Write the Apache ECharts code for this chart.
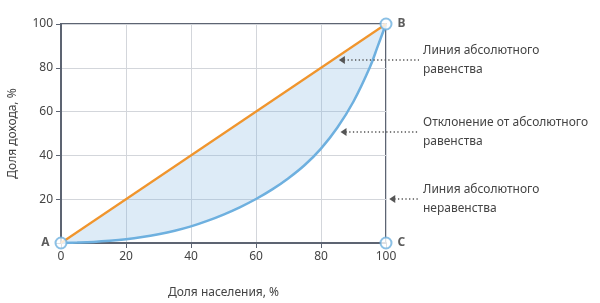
<!DOCTYPE html>
<html><head><meta charset="utf-8">
<script src="https://cdn.jsdelivr.net/npm/echarts@6/dist/echarts.min.js"></script>
<style>html,body{margin:0;padding:0;background:#fff}#c{width:600px;height:303px}</style>
</head><body><div id="c"></div>
<script>
const populationShare = [0, 5, 10, 15, 20, 25, 30, 35, 40, 45, 50, 55, 60, 65, 70, 75, 80, 85, 90, 95, 97.5, 100];
const incomeShare = [0, 0.2, 0.5, 1.0, 1.7, 2.7, 4.0, 5.6, 7.6, 10.1, 13.0, 16.3, 20.1, 24.5, 29.6, 35.6, 43.1, 52.6, 64.6, 80.1, 90, 100];
const equalityX = [0, 100];
const equalityY = [0, 100];
const axisTicks = [0, 20, 40, 60, 80, 100];
const pointNames = ['A', 'B', 'C'];
const pointX = [0, 100, 100];
const pointY = [0, 100, 0];
const annotTexts = [['Линия абсолютного', 'равенства'], ['Отклонение от абсолютного', 'равенства'], ['Линия абсолютного', 'неравенства']];
const annotX = [85.5, 86, 101];
const annotY = [83.5, 50.8, 20.2];
const xName = 'Доля населения, %';
const yName = 'Доля дохода, %';

const FONT = 'Noto Sans';
const TXT = '#444';
const AX = '#5d6472';
const BLUE = '#6eb0df';
const ORANGE = '#f0952d';

const chart = echarts.init(document.getElementById('c'), null, {renderer: 'canvas'});
const curve = populationShare.map((x, i) => [x, incomeShare[i]]);
const eqLine = equalityX.map((x, i) => [x, equalityY[i]]);
const pts = pointNames.map((n, i) => ({name: n, value: [pointX[i], pointY[i]],
  label: {position: i === 0 ? 'left' : 'right'}}));

const axisCommon = {
  type: 'value', min: axisTicks[0], max: axisTicks[axisTicks.length - 1], interval: 20,
  nameLocation: 'middle',
  nameTextStyle: {fontFamily: FONT, fontSize: 12, color: TXT},
  axisLine: {show: true, lineStyle: {color: AX, width: 2}},
  axisTick: {show: true, length: 5, lineStyle: {color: AX, width: 1}},
  axisLabel: {fontFamily: FONT, fontSize: 12, color: TXT, margin: 8},
  splitLine: {show: true, lineStyle: {color: '#d3d6db', width: 1}}
};

chart.setOption({
  animation: false,
  grid: {left: 61, right: 214, top: 24, bottom: 60, show: true, borderColor: AX, borderWidth: 2,
    backgroundColor: 'transparent', containLabel: false, outerBoundsMode: 'none'},
  xAxis: Object.assign({}, axisCommon, {name: xName, nameGap: 44}),
  yAxis: Object.assign({}, axisCommon, {name: yName, nameGap: 42,
    axisLabel: Object.assign({}, axisCommon.axisLabel, {formatter: v => v === 0 ? '' : String(v)})}),
  series: [
    {type: 'custom', data: [0], silent: true, z: 1,
     renderItem: (params, api) => {
       const top = eqLine.map(p => api.coord(p));
       const bottom = curve.slice().reverse().map(p => api.coord(p));
       return {type: 'polygon', shape: {points: top.concat(bottom)},
         style: {fill: 'rgba(120,175,225,0.25)', stroke: null}};
     }},
    {type: 'line', data: curve, smooth: 0.4, symbol: 'none',
     lineStyle: {color: BLUE, width: 2.5}, z: 5},
    {type: 'line', data: eqLine, symbol: 'none', lineStyle: {color: ORANGE, width: 2.2}, z: 6},
    {type: 'scatter', data: pts, symbol: 'circle', symbolSize: 11,
     itemStyle: {color: '#fff', borderColor: BLUE, borderWidth: 2}, z: 7,
     label: {show: true, formatter: '{b}', fontFamily: FONT, fontWeight: 'bold', fontSize: 12, color: '#333', distance: 5}}
  ]
});

const g = [];
annotTexts.forEach((lines, i) => {
  const p = chart.convertToPixel({gridIndex: 0}, [annotX[i], annotY[i]]);
  const tx = p[0], ty = Math.round(p[1]);
  const endX = 419;
  g.push({type: 'line', shape: {x1: tx + 5, y1: ty, x2: endX, y2: ty},
    style: {stroke: '#555', lineWidth: 1.3, lineDash: [1.3, 2.4]}, z: 10});
  g.push({type: 'polygon', shape: {points: [[tx, ty], [tx + 6, ty - 4], [tx + 6, ty + 4]]},
    style: {fill: '#555'}, z: 10});
  lines.forEach((t, j) => {
    g.push({type: 'text', x: 423, y: ty - 9 + j * 18.5,
      style: {text: t, font: '12px "Noto Sans"', fill: TXT, textVerticalAlign: 'middle', textAlign: 'left'}, z: 10});
  });
});
chart.setOption({graphic: g});
</script></body></html>
